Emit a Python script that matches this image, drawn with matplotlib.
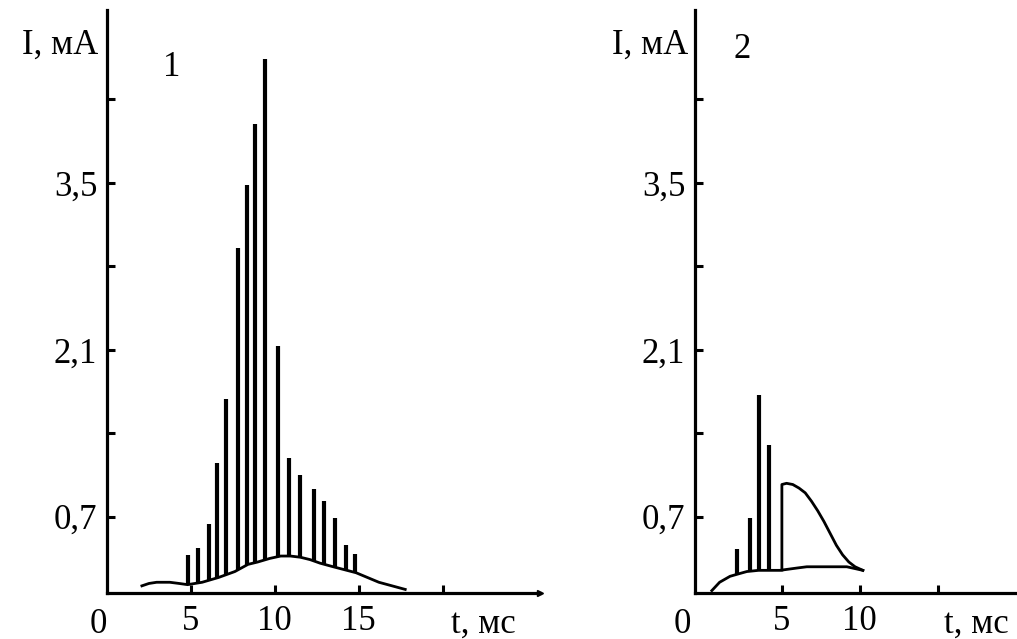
import numpy as np
import matplotlib
matplotlib.use("Agg")
import matplotlib.pyplot as plt

plt.rcParams['font.family'] = ['Liberation Serif', 'DejaVu Serif']

# panel 1: pulses and slow component
t1_bars = [4.8, 5.43, 6.07, 6.56, 7.1, 7.79, 8.37, 8.84, 9.39, 10.2, 10.85,
           11.49, 12.31, 12.95, 13.58, 14.22, 14.8]
i1_bars = [0.38, 0.44, 0.64, 1.15, 1.69, 2.95, 3.48, 3.99, 4.54, 2.13, 1.19,
           1.05, 0.93, 0.83, 0.69, 0.46, 0.39]
t1_base = [2.08, 2.5, 2.96, 3.74, 4.3, 4.8, 5.67, 6.64, 7.62, 8.4, 8.98, 9.7,
           10.35, 10.93, 11.52, 12.1, 12.7, 13.48, 14.84, 16.2, 17.77]
i1_base = [0.12, 0.14, 0.15, 0.15, 0.14, 0.13, 0.15, 0.19, 0.24, 0.30, 0.32, 0.35,
           0.37, 0.37, 0.36, 0.34, 0.31, 0.28, 0.23, 0.15, 0.09]

# panel 2
t2_bars = [2.1, 2.95, 3.53, 4.17]
i2_bars = [0.43, 0.69, 1.72, 1.30]
t2_pulse = [5.0, 5.3, 5.7, 6.1, 6.5, 6.9, 7.3, 7.7, 8.1, 8.5, 8.9, 9.3, 9.7, 10.2]
i2_pulse = [0.97, 0.98, 0.97, 0.94, 0.90, 0.83, 0.75, 0.66, 0.56, 0.46, 0.38,
            0.32, 0.28, 0.25]
t2_base = [0.5, 1.0, 1.67, 2.2, 2.75, 3.5, 4.87, 6.0, 6.6, 7.44, 8.3, 9.17, 10.2]
i2_base = [0.08, 0.15, 0.2, 0.22, 0.24, 0.25, 0.25, 0.27, 0.28, 0.28, 0.28, 0.28, 0.25]

yticks = [0.7, 1.4, 2.1, 2.8, 3.5, 4.2]
yticklabels = ['0,7', '', '2,1', '', '3,5', '']

FS = 25
W, H = 1017, 639

fig = plt.figure(figsize=(W / 100, H / 100), dpi=100)
ax1 = fig.add_axes([107 / W, (H - 593) / H, 433 / W, 583 / H])
ax2 = fig.add_axes([695 / W, (H - 593) / H, 322 / W, 583 / H])


def style(ax, xlim, xticks, xticklabels, zero_x, tlabel_x, num, num_xy):
    ax.set_xlim(xlim)
    ax.set_ylim(0.06, 4.95)
    for s in ['top', 'right']:
        ax.spines[s].set_visible(False)
    for s in ['left', 'bottom']:
        ax.spines[s].set_linewidth(2.3)
    ax.set_yticks(yticks)
    ax.set_yticklabels(yticklabels)
    ax.set_xticks(xticks)
    ax.set_xticklabels(xticklabels)
    ax.tick_params(direction='in', length=6, width=2.2, labelsize=FS)
    ax.tick_params(axis='x', pad=9)
    ax.tick_params(axis='y', pad=7)
    trans = ax.get_xaxis_transform()
    ax.text(zero_x, -0.0255, '0', transform=trans, ha='center', va='top', fontsize=FS)
    ax.text(tlabel_x, -0.0255, 't, мс', transform=trans, ha='center', va='top', fontsize=FS)
    ax.text(-0.02, 0.94, 'I, мА', transform=ax.transAxes, ha='right', va='center',
            fontsize=FS)
    ax.text(num_xy[0], num_xy[1], num, transform=ax.transAxes, ha='center',
            va='center', fontsize=FS)


# panel 1
ax1.plot(t1_base, i1_base, color='black', lw=2.0)
b1 = np.interp(t1_bars, t1_base, i1_base)
ax1.vlines(t1_bars, b1, i1_bars, color='black', lw=3.0)
style(ax1, (0, 25.8), [5, 10, 15, 20], ['5', '10', '15', ''], -0.54, 22.4,
      '1', ((172 - 107) / 433, (593 - 68) / 583))
ax1.plot(1, 0, '>', transform=ax1.transAxes, color='black', ms=5, clip_on=False)

# panel 2
ax2.plot(t2_base, i2_base, color='black', lw=2.0)
b2 = np.interp(t2_bars, t2_base, i2_base)
ax2.vlines(t2_bars, b2, i2_bars, color='black', lw=3.0)
p0 = np.interp(t2_pulse[0], t2_base, i2_base)
ax2.plot([t2_pulse[0]] + t2_pulse, [p0] + i2_pulse, color='black', lw=2.0)
style(ax2, (-0.58, 20.1), [5, 10, 15], ['5', '10', ''], -1.41, 17.5,
      '2', ((742 - 695) / 322, (593 - 50) / 583))

fig.savefig('out.png', dpi=100)
